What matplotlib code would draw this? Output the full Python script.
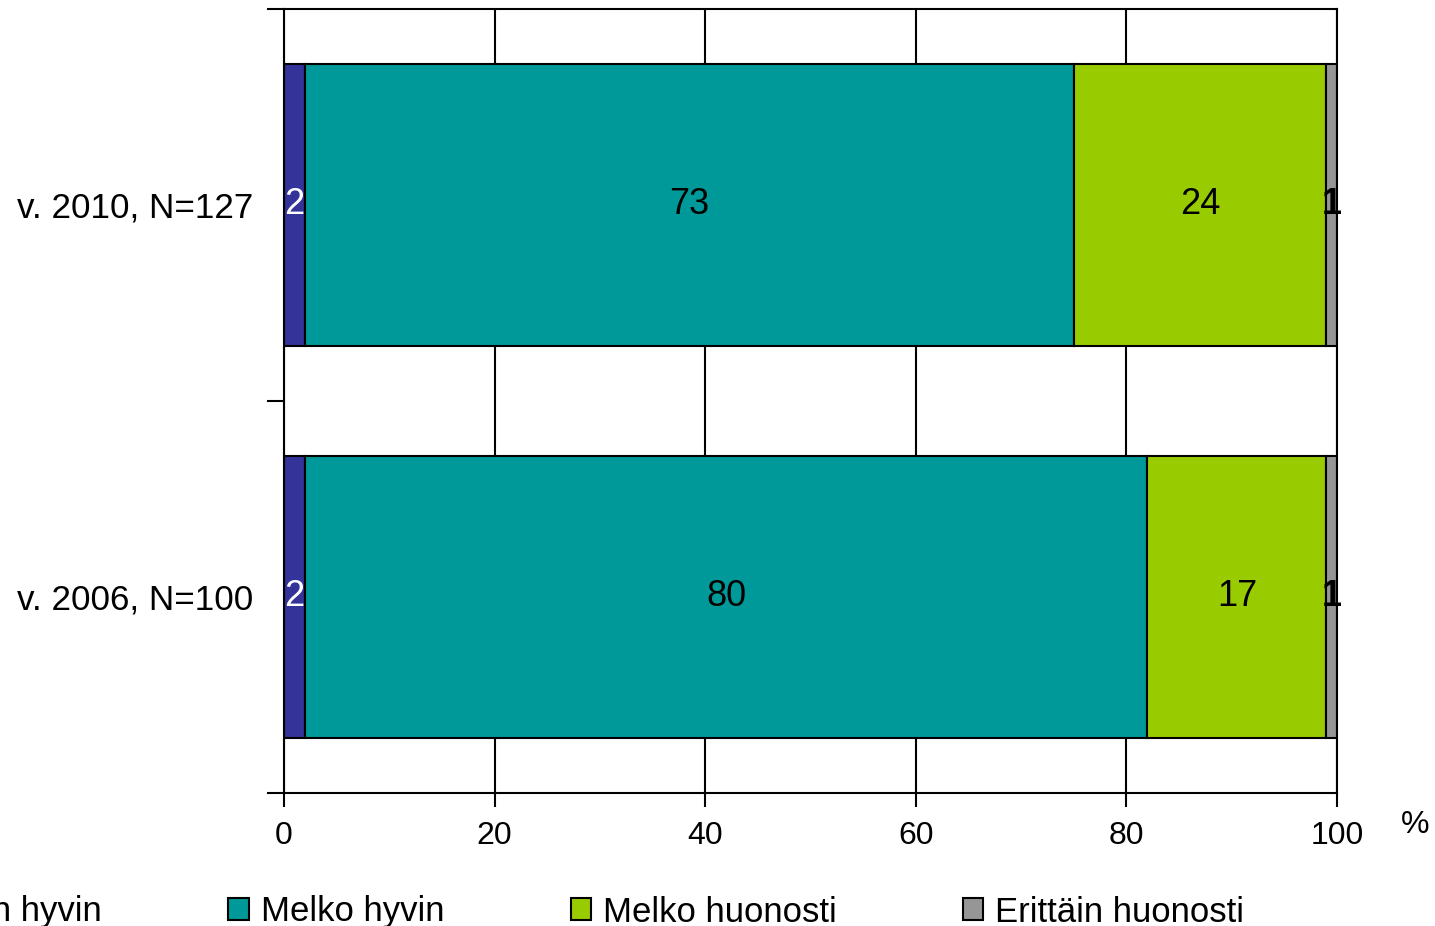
import matplotlib
matplotlib.use("Agg")
import matplotlib.pyplot as plt
import numpy as np

categories = ["v. 2006, N=100", "v. 2010, N=127"]
series_names = ["Erittäin hyvin", "Melko hyvin", "Melko huonosti", "Erittäin huonosti"]
erittain_hyvin = [2, 2]
melko_hyvin = [80, 73]
melko_huonosti = [17, 24]
erittain_huonosti = [1, 1]
x_ticks = [0, 20, 40, 60, 80, 100]

series = [erittain_hyvin, melko_hyvin, melko_huonosti, erittain_huonosti]
colors = ["#333399", "#009999", "#99CC00", "#969696"]
label_colors = ["white", "black", "black", "black"]
label_weights = ["normal", "normal", "normal", "bold"]

plt.rcParams['font.family'] = ['Liberation Sans', 'DejaVu Sans']

fig = plt.figure(figsize=(14.35, 9.26), dpi=100)
ax = fig.add_axes([284/1435, 1-793/926, (1337-284)/1435, (793-9)/926])

ypos = np.array([0.5, 1.5])
left = np.zeros(2)
handles = []
for vals, col, lc, lw, name in zip(series, colors, label_colors, label_weights, series_names):
    vals = np.array(vals, dtype=float)
    bars = ax.barh(ypos, vals, left=left, height=0.717, color=col,
                   edgecolor="black", linewidth=1.5, zorder=3, label=name)
    handles.append(bars)
    for y, v, l in zip(ypos, vals, left):
        ax.text(l + v/2, y, f"{int(v)}", ha="center", va="center",
                color=lc, fontsize=26, fontweight=lw, zorder=4)
    left += vals

ax.set_xlim(0, 100)
ax.set_ylim(0, 2)
ax.set_xticks(x_ticks)
ax.set_xticklabels([str(t) for t in x_ticks], fontsize=23)
ax.xaxis.grid(True, color="black", linewidth=1.5, zorder=0)
ax.set_axisbelow(True)
ax.set_yticks([0, 1, 2])
ax.set_yticklabels([])
ax.set_yticks(ypos, minor=True)
ax.set_yticklabels(categories, minor=True, fontsize=25.2)
ax.tick_params(axis="y", which="minor", length=0, pad=22)
ax.tick_params(axis="y", which="major", length=12, width=1.5, direction="out")
ax.tick_params(axis="x", length=10, width=1.5, direction="out", pad=10)
for s in ax.spines.values():
    s.set_linewidth(1.5)
    s.set_zorder(5)

fig.text(1415/1435, 1-825/926, "%", fontsize=23, ha="center", va="center")

leg = fig.legend(handles=handles, labels=series_names, loc="center left",
                 bbox_to_anchor=(-129/1435, 1-912/926), ncol=4, frameon=False,
                 prop={"size": 25},
                 handlelength=0.58, handleheight=0.58, handletextpad=0.35,
                 columnspacing=3.64, borderaxespad=0, borderpad=0)
for h in leg.legend_handles:
    h.set_linewidth(1.5)

fig.savefig("out.png", dpi=100)
